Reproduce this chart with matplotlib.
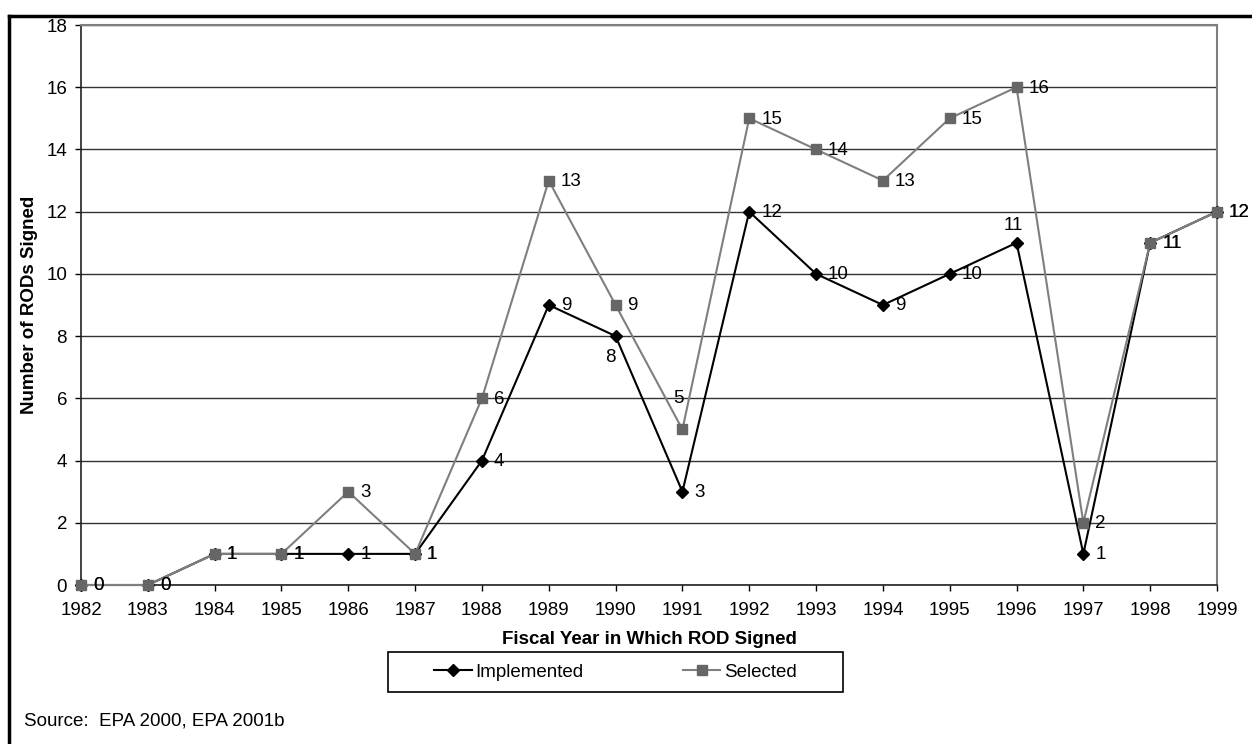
import matplotlib
matplotlib.use("Agg")
import matplotlib.pyplot as plt
from matplotlib.lines import Line2D
from matplotlib.patches import Rectangle

plt.rcParams['font.family'] = ['Liberation Sans', 'DejaVu Sans']

# data
years = list(range(1982, 2000))
implemented = [0, 0, 1, 1, 1, 1, 4, 9, 8, 3, 12, 10, 9, 10, 11, 1, 11, 12]
selected = [0, 0, 1, 1, 3, 1, 6, 13, 9, 5, 15, 14, 13, 15, 16, 2, 11, 12]
yticks = list(range(0, 19, 2))

# label offsets (pixels) where the label is not to the right of the point
impl_offsets = {1990: (-5, -21, 'center'), 1996: (-3, 17, 'center')}
sel_offsets = {1991: (-4, 31, 'center')}

FS = 13.5

fig = plt.figure(figsize=(12.52, 7.44), dpi=100)
ax = fig.add_axes([81 / 1252, 1 - 585 / 744, 1136 / 1252, 560 / 744])

gray = '#7f7f7f'
ax.plot(years, implemented, color='black', lw=1.5, marker='D', ms=6.5,
        mfc='black', mec='black', label='Implemented', clip_on=False, zorder=3)
ax.plot(years, selected, color=gray, lw=1.5, marker='s', ms=7.5,
        mfc='#666666', mec='#666666', label='Selected', clip_on=False, zorder=4)

for x, v in zip(years, implemented):
    dx, dy, ha = impl_offsets.get(x, (12, -1, 'left'))
    ax.annotate(str(v), (x, v), xytext=(dx, dy), textcoords='offset pixels',
                ha=ha, va='center', fontsize=FS, zorder=5, annotation_clip=False)
for x, v in zip(years, selected):
    dx, dy, ha = sel_offsets.get(x, (12, -1, 'left'))
    ax.annotate(str(v), (x, v), xytext=(dx, dy), textcoords='offset pixels',
                ha=ha, va='center', fontsize=FS, zorder=5, annotation_clip=False)

ax.set_xlim(1982, 1999)
ax.set_ylim(0, 18)
ax.set_xticks(years)
ax.set_yticks(yticks)
ax.tick_params(axis='x', direction='out', length=4, width=1, pad=8, labelsize=FS)
ax.tick_params(axis='y', direction='out', length=4, width=1, pad=6, labelsize=FS)
ax.yaxis.grid(True, color='#333333', lw=1.0)
ax.set_axisbelow(True)
for s in ['top', 'right']:
    ax.spines[s].set_color(gray)
    ax.spines[s].set_linewidth(1.5)
for s in ['left', 'bottom']:
    ax.spines[s].set_color('#222222')
    ax.spines[s].set_linewidth(1.2)

ax.set_xlabel('Fiscal Year in Which ROD Signed', fontsize=FS, fontweight='bold')
ax.set_ylabel('Number of RODs Signed', fontsize=FS, fontweight='bold')
ax.xaxis.set_label_coords(0.5, -0.083)
ax.yaxis.set_label_coords(-0.038, 0.5)

# legend with its own box
leg = fig.legend(loc='center', bbox_to_anchor=(615.5 / 1252, 1 - 672 / 744),
                 ncol=2, frameon=False, fontsize=FS, handlelength=2.0,
                 columnspacing=5.3, handletextpad=0.2)
fig.patches.append(Rectangle((388 / 1252, 1 - 692 / 744), 455 / 1252, 40 / 744,
                             transform=fig.transFigure, fill=False,
                             edgecolor='black', lw=1.2))

fig.text(24 / 1252, 1 - 721 / 744, 'Source:  EPA 2000, EPA 2001b',
         fontsize=FS, va='center', ha='left')

# outer frame (left and top edges visible)
fig.lines.append(Line2D([9 / 1252, 9 / 1252], [0, 1 - 15.5 / 744],
                        transform=fig.transFigure, color='black', lw=2.5))
fig.lines.append(Line2D([9 / 1252, 1], [1 - 15.5 / 744, 1 - 15.5 / 744],
                        transform=fig.transFigure, color='black', lw=2.5))

fig.savefig('out.png', dpi=100)
